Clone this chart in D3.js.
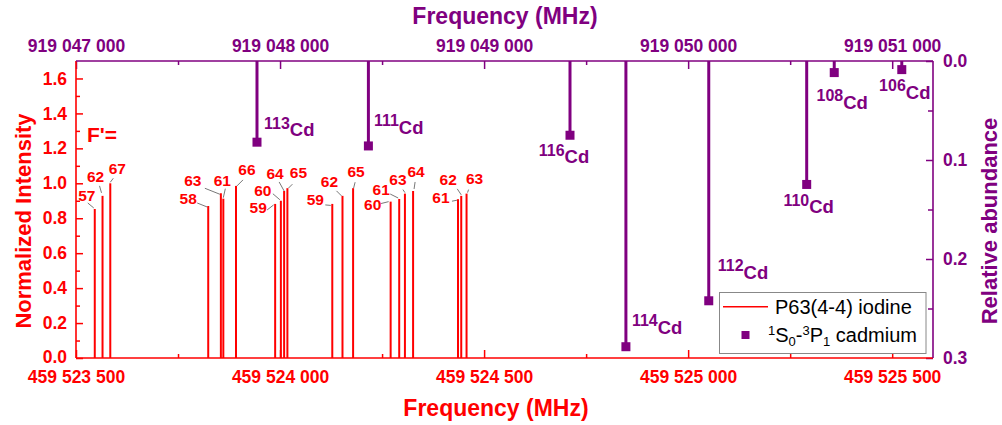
<!DOCTYPE html>
<html><head><meta charset="utf-8">
<script src="https://cdn.jsdelivr.net/npm/d3@7"></script>
<style>
body{margin:0;background:#fff;}
text{font-family:"Liberation Sans",Arial,sans-serif;}
</style></head>
<body><svg id="c" width="1002" height="425"></svg>
<script>
// ---- data ----
const iodineFreq = [459523546, 459523565, 459523584, 459523824, 459523855, 459523861, 459523892,
  459523988, 459524002, 459524010, 459524018, 459524128, 459524153, 459524179,
  459524271, 459524292, 459524306, 459524326, 459524436, 459524444, 459524457];
const iodineInt = [0.853, 0.928, 1.0, 0.87, 0.943, 0.912, 0.985, 0.882, 0.90, 0.956, 0.972,
  0.882, 0.928, 0.972, 0.895, 0.91, 0.941, 0.956, 0.909, 0.928, 0.941];
const iodineF = [57, 62, 67, 58, 63, 61, 66, 59, 60, 64, 65, 59, 62, 65, 60, 61, 63, 64, 61, 62, 63];

const cdIsotope = ["113", "111", "116", "114", "112", "110", "108", "106"];
const cdFreq = [919047887, 919048433, 919049421, 919049695, 919050101, 919050581, 919050716, 919051047];
const cdAbundance = [0.082, 0.0858, 0.075, 0.2886, 0.2422, 0.1247, 0.0117, 0.0087];

const bottomTicks = [459523500, 459524000, 459524500, 459525000, 459525500];
const bottomMinor = [459523750, 459524250, 459524750, 459525250];
const topTicks = [919047000, 919048000, 919049000, 919050000, 919051000];
const topMinor = [919047500, 919048500, 919049500, 919050500];
const leftTicks = [0, 0.2, 0.4, 0.6, 0.8, 1.0, 1.2, 1.4, 1.6];
const leftMinor = [0.1, 0.3, 0.5, 0.7, 0.9, 1.1, 1.3, 1.5];
const rightTicks = [0, 0.1, 0.2, 0.3];
const rightMinor = [0.05, 0.15, 0.25];

// ---- layout (label offsets, px, relative to line top) ----
const iodineLabelLayout = [
  [-8,-8, -7,-6, -1,-1], [-7,-14, -3,-10, -1,-3], [7,-9, 3,-5, 0,-1],
  [-20,-2, -11,-3, -1,1], [-28,-7, -16,-5, -1,1], [-1,-13, 2,-10, 0,-1], [11,-11, 7,-6, 1,0],
  [-17,9, -8,6, -1.5,1], [-18,-5, -8,-7, -1,-1], [-9,-12, -5,-9, 0,0], [11,-10, 5,-4, 1,0],
  [-17,1, -7,1, -1.5,1.5], [-13,-9, -6,-5, -1,0], [3,-11, 2,-6, 0.5,0],
  [-18,8, -10,2, -2,0], [-18,-4, -9,-5, -1,-1], [-7,-9, -2,-4, 0,-1], [3,-14, 2,-9, 1,-2],
  [-17,4, -6,2, -1,1], [-13,-11, -4,-7, 0,-1], [8,-10, 2,-4, 1,-1]
];
const cdLabelLayout = [
  [7,-6,"start"], [5.5,-12,"start"], [-6,28,"middle"], [6,-13,"start"],
  [9,-22,"start"], [2,29,"middle"], [8,36,"middle"], [3,29,"middle"]
];

const RED = "#ff0000", PURPLE = "#800080";
const L = 76, R = 933, T = 61, B = 358;

const svg = d3.select("#c");
const xB = d3.scaleLinear().domain([459523500, 459525600]).range([L, R]);
const xT = d3.scaleLinear().domain([919047000, 919051200]).range([L, R]);
const yL = d3.scaleLinear().domain([0, 1.7]).range([B, T]);
const yR = d3.scaleLinear().domain([0, 0.3]).range([T, B]);

const spaced = v => d3.format(",")(v).replace(/,/g, " ");

function styleAxis(g, color, fs) {
  g.select(".domain").remove();
  g.selectAll("line").attr("stroke", color).attr("stroke-width", 1.5);
  g.selectAll("text").attr("fill", color).style("font-size", fs + "px").style("font-weight", "bold")
    .style("font-family", '"Liberation Sans",Arial,sans-serif');
}

// axes
const gB = svg.append("g").attr("transform", `translate(0,${B})`)
  .call(d3.axisBottom(xB).tickValues(bottomTicks).tickFormat(spaced).tickSizeInner(-8).tickSizeOuter(0).tickPadding(12.5));
styleAxis(gB, RED, 17.5);
const gBm = svg.append("g").attr("transform", `translate(0,${B})`)
  .call(d3.axisBottom(xB).tickValues(bottomMinor).tickFormat("").tickSizeInner(-4).tickSizeOuter(0));
styleAxis(gBm, RED, 17.5);

const gT = svg.append("g").attr("transform", `translate(0,${T})`)
  .call(d3.axisTop(xT).tickValues(topTicks).tickFormat(spaced).tickSizeInner(-8).tickSizeOuter(0).tickPadding(9));
styleAxis(gT, PURPLE, 17.5);
const gTm = svg.append("g").attr("transform", `translate(0,${T})`)
  .call(d3.axisTop(xT).tickValues(topMinor).tickFormat("").tickSizeInner(-4).tickSizeOuter(0));
styleAxis(gTm, PURPLE, 17.5);

const gL = svg.append("g").attr("transform", `translate(${L},0)`)
  .call(d3.axisLeft(yL).tickValues(leftTicks).tickFormat(d3.format(".1f")).tickSizeInner(-7).tickSizeOuter(0).tickPadding(9));
styleAxis(gL, RED, 17.5);
gL.selectAll(".tick text").filter(d => d === 0).attr("y", -1.5);
const gLm = svg.append("g").attr("transform", `translate(${L},0)`)
  .call(d3.axisLeft(yL).tickValues(leftMinor).tickFormat("").tickSizeInner(-4).tickSizeOuter(0));
styleAxis(gLm, RED, 17.5);

const gR = svg.append("g").attr("transform", `translate(${R},0)`)
  .call(d3.axisRight(yR).tickValues(rightTicks).tickFormat(d3.format(".1f")).tickSizeInner(-7).tickSizeOuter(0).tickPadding(10));
styleAxis(gR, PURPLE, 17.5);
const gRm = svg.append("g").attr("transform", `translate(${R},0)`)
  .call(d3.axisRight(yR).tickValues(rightMinor).tickFormat("").tickSizeInner(-5).tickSizeOuter(0));
styleAxis(gRm, PURPLE, 17.5);

// frame lines
svg.append("line").attr("x1", L).attr("x2", R).attr("y1", B).attr("y2", B).attr("stroke", RED).attr("stroke-width", 1.6);
svg.append("line").attr("x1", L).attr("x2", L).attr("y1", T).attr("y2", B).attr("stroke", RED).attr("stroke-width", 1.6);
svg.append("line").attr("x1", L).attr("x2", R).attr("y1", T).attr("y2", T).attr("stroke", PURPLE).attr("stroke-width", 1.6);
svg.append("line").attr("x1", R).attr("x2", R).attr("y1", T).attr("y2", B).attr("stroke", PURPLE).attr("stroke-width", 1.6);

// iodine lines
const idx = d3.range(iodineFreq.length);
svg.append("g").selectAll("line").data(idx).join("line")
  .attr("x1", i => xB(iodineFreq[i])).attr("x2", i => xB(iodineFreq[i]))
  .attr("y1", yL(0)).attr("y2", i => yL(iodineInt[i]))
  .attr("stroke", RED).attr("stroke-width", 2);

// iodine labels + leaders
const gLab = svg.append("g");
idx.forEach(i => {
  const x0 = xB(iodineFreq[i]), y0 = yL(iodineInt[i]);
  const o = iodineLabelLayout[i];
  gLab.append("line").attr("x1", x0 + o[2]).attr("y1", y0 + o[3]).attr("x2", x0 + o[4]).attr("y2", y0 + o[5])
    .attr("stroke", "#555").attr("stroke-width", 0.8);
  gLab.append("text").attr("x", x0 + o[0]).attr("y", y0 + o[1]).attr("text-anchor", "middle")
    .attr("fill", RED).style("font-size", "15.5px").style("font-weight", "bold").text(iodineF[i]);
});

svg.append("text").attr("x", 87).attr("y", 141.5).attr("fill", RED)
  .style("font-size", "21px").style("font-weight", "bold").text("F'=");

// cadmium stems
const cidx = d3.range(cdFreq.length);
svg.append("g").selectAll("line").data(cidx).join("line")
  .attr("x1", i => xT(cdFreq[i])).attr("x2", i => xT(cdFreq[i]))
  .attr("y1", yR(0)).attr("y2", i => yR(cdAbundance[i]))
  .attr("stroke", PURPLE).attr("stroke-width", 3);
svg.append("g").selectAll("rect").data(cidx).join("rect")
  .attr("x", i => xT(cdFreq[i]) - 4.5).attr("y", i => yR(cdAbundance[i]) - 4.5)
  .attr("width", 9).attr("height", 9).attr("fill", PURPLE);

cidx.forEach(i => {
  const o = cdLabelLayout[i];
  const t = svg.append("text").attr("x", xT(cdFreq[i]) + o[0]).attr("y", yR(cdAbundance[i]) + o[1])
    .attr("text-anchor", o[2]).attr("fill", PURPLE).style("font-weight", "bold");
  t.append("tspan").attr("dy", -7.5).style("font-size", "16px").text(cdIsotope[i]);
  t.append("tspan").attr("dy", 7.5).style("font-size", "18.5px").text("Cd");
});

// axis titles
svg.append("text").attr("x", 505).attr("y", 23.5).attr("text-anchor", "middle").attr("fill", PURPLE)
  .style("font-size", "23px").style("font-weight", "bold").text("Frequency (MHz)");
svg.append("text").attr("x", 496).attr("y", 416).attr("text-anchor", "middle").attr("fill", RED)
  .style("font-size", "23px").style("font-weight", "bold").text("Frequency (MHz)");
svg.append("text").attr("transform", "translate(31,221) rotate(-90)").attr("text-anchor", "middle").attr("fill", RED)
  .style("font-size", "22px").style("font-weight", "bold").text("Normalized Intensity");
svg.append("text").attr("transform", "translate(997,221) rotate(-90)").attr("text-anchor", "middle").attr("fill", PURPLE)
  .style("font-size", "22px").style("font-weight", "bold").text("Relative abundance");

// legend
const lg = svg.append("g");
lg.append("rect").attr("x", 719.5).attr("y", 292.5).attr("width", 206.5).attr("height", 61)
  .attr("fill", "#fff").attr("stroke", "#888").attr("stroke-width", 1);
lg.append("line").attr("x1", 723).attr("x2", 768).attr("y1", 306.7).attr("y2", 306.7).attr("stroke", RED).attr("stroke-width", 1.5);
lg.append("text").attr("x", 775).attr("y", 313.5).attr("fill", "#000").style("font-size", "20px").text("P63(4-4) iodine");
lg.append("rect").attr("x", 741.5).attr("y", 331).attr("width", 8).attr("height", 8).attr("fill", PURPLE);
const lt = lg.append("text").attr("x", 768).attr("y", 341.5).attr("fill", "#000").style("font-size", "20px");
lt.append("tspan").attr("dy", -7).style("font-size", "13px").text("1");
lt.append("tspan").attr("dy", 7).text("S");
lt.append("tspan").attr("dy", 4).style("font-size", "13px").text("0");
lt.append("tspan").attr("dy", -4).text("-");
lt.append("tspan").attr("dy", -7).style("font-size", "13px").text("3");
lt.append("tspan").attr("dy", 7).text("P");
lt.append("tspan").attr("dy", 4).style("font-size", "13px").text("1");
lt.append("tspan").attr("dy", -4).text(" cadmium");
</script></body></html>
